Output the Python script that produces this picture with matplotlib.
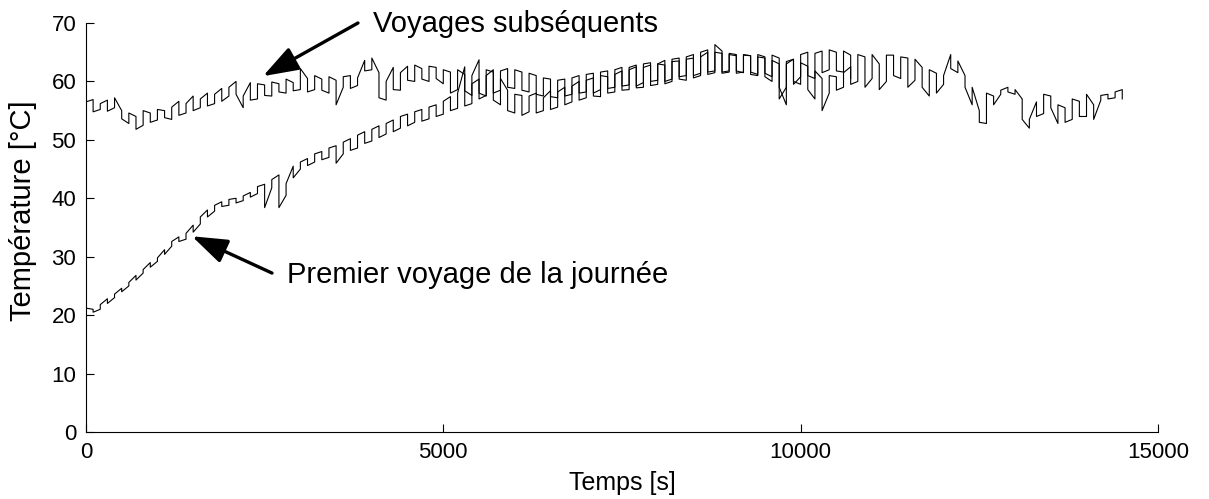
import numpy as np
import matplotlib
matplotlib.use("Agg")
import matplotlib.pyplot as plt

plt.rcParams["font.family"] = ["Liberation Sans", "DejaVu Sans"]

# Sampling grid (s) for both temperature records
t_step = 100

# Later trips: min / max temperature within each 100 s window
later_lo = [55.0, 54.8, 55.2, 54.9, 55.5, 53.6, 52.8, 51.8, 52.5, 53.0,
            53.4, 53.8, 53.5, 54.2, 54.6, 55.0, 55.5, 55.8, 56.2, 56.6,
            57.5, 57.8, 55.5, 56.8, 57.0, 57.6, 57.5, 58.2, 58.0, 58.4,
            58.6, 58.2, 58.6, 58.5, 58.0, 56.0, 59.0, 58.8, 59.3, 61.8,
            62.0, 57.2, 56.8, 58.6, 58.5, 60.2, 60.0, 60.4, 60.0, 60.5,
            59.6, 58.0, 58.6, 58.4, 57.6, 58.0, 57.5, 56.8, 56.0, 55.0,
            54.6, 54.2, 54.8, 54.6, 55.0, 55.2, 55.6, 56.0, 56.5, 56.8,
            57.2, 57.5, 57.4, 58.0, 58.2, 58.5, 58.6, 58.9, 59.0, 59.3,
            59.5, 59.6, 60.0, 60.4, 60.2, 60.6, 61.0, 61.2, 61.5, 61.4,
            61.6, 61.8, 61.5, 61.6, 61.2, 61.4, 60.8, 59.0, 56.0, 59.5,
            60.8, 61.0, 60.5, 61.5, 62.0, 61.8, 61.6, 59.5, 60.0, 59.0,
            60.5, 58.6, 60.0, 61.0, 60.5, 59.0, 60.2, 59.0, 57.5, 58.0,
            59.5, 62.2, 61.5, 59.0, 56.0, 53.0, 52.8, 56.0, 57.8, 58.2,
            57.8, 53.5, 52.0, 54.0, 54.5, 55.5, 52.8, 53.0, 53.5, 54.0,
            54.0, 53.5, 56.8, 57.0, 57.2, 57.0]
later_hi = [56.5, 56.9, 56.2, 56.8, 57.2, 55.0, 54.6, 54.0, 55.0, 54.6,
            55.2, 55.0, 55.6, 56.6, 56.2, 57.5, 57.0, 58.0, 57.8, 58.8,
            59.0, 60.0, 57.5, 59.8, 59.6, 59.4, 59.9, 59.6, 60.4, 59.8,
            62.2, 60.5, 61.0, 60.4, 60.8, 60.2, 60.8, 61.0, 60.6, 63.6,
            64.0, 61.5, 60.0, 62.4, 61.5, 62.6, 62.8, 62.2, 62.6, 62.4,
            62.0, 61.6, 62.0, 61.2, 61.0, 63.7, 62.0, 61.6, 60.5, 58.5,
            57.8, 57.6, 57.5, 58.0, 57.2, 58.4, 58.2, 59.0, 59.2, 60.0,
            60.2, 60.6, 61.0, 60.8, 61.2, 61.8, 62.0, 62.5, 62.4, 62.8,
            63.0, 62.8, 63.4, 63.5, 63.8, 64.0, 64.2, 65.0, 66.3, 65.2,
            64.8, 64.6, 64.5, 64.4, 64.6, 64.2, 64.5, 64.0, 63.0, 63.8,
            64.6, 65.0, 64.8, 65.2, 65.4, 65.0, 65.2, 64.5, 64.6, 64.2,
            64.6, 63.0, 64.5, 64.5, 64.2, 64.0, 63.8, 62.4, 62.0, 61.4,
            61.0, 64.6, 63.5, 61.0, 59.0, 55.0, 58.0, 57.5, 58.5, 59.0,
            58.6, 57.0, 53.5, 56.5, 57.8, 57.5, 56.0, 55.5, 57.0, 56.6,
            57.8, 56.0, 57.6, 57.8, 58.2, 58.6]

# First trip of the day
first_lo = [20.6, 20.5, 21.0, 22.0, 23.0, 24.0, 25.0, 26.0, 27.2, 28.2,
            29.2, 30.4, 31.8, 32.6, 33.0, 34.2, 35.6, 36.8, 37.8, 38.6,
            38.8, 39.2, 39.6, 40.2, 40.8, 38.4, 41.8, 38.4, 40.5, 43.5,
            45.0, 45.6, 46.2, 46.6, 47.0, 46.0, 47.6, 48.2, 48.6, 49.4,
            49.8, 50.4, 51.0, 51.4, 52.0, 52.4, 53.0, 53.2, 53.6, 54.0,
            54.4, 55.0, 55.4, 55.8, 56.2, 57.0, 57.6, 58.0, 58.5, 59.0,
            58.8, 58.5, 58.2, 57.8, 57.5, 57.4, 57.2, 57.5, 57.8, 58.0,
            58.2, 58.0, 58.6, 58.8, 59.0, 59.2, 59.4, 59.2, 59.8, 60.0,
            60.2, 60.0, 60.4, 60.8, 61.0, 61.0, 61.4, 61.6, 61.8, 61.6,
            61.8, 61.4, 61.6, 61.2, 61.0, 60.8, 60.0, 57.0, 59.0, 60.0,
            59.5, 58.6, 57.0, 55.0, 58.0, 58.5, 59.0, 60.5]
first_hi = [21.2, 21.0, 21.8, 22.8, 23.6, 24.6, 25.6, 26.8, 27.8, 29.0,
            29.8, 31.2, 32.6, 33.4, 34.0, 35.4, 36.8, 38.0, 38.8, 39.4,
            39.8, 40.0, 40.4, 41.0, 42.0, 42.4, 43.2, 44.0, 42.5, 45.5,
            46.2, 46.8, 47.6, 48.0, 48.6, 49.0, 49.6, 50.2, 50.8, 51.4,
            51.8, 52.4, 52.8, 53.4, 54.0, 54.4, 54.8, 55.2, 55.6, 56.0,
            56.6, 57.4, 58.0, 62.5, 59.6, 60.4, 61.0, 62.0, 61.8, 62.2,
            62.0, 61.6, 61.4, 61.0, 60.6, 60.4, 60.2, 60.4, 60.6, 61.0,
            61.2, 61.4, 61.6, 61.8, 62.0, 62.4, 62.4, 62.8, 63.0, 63.2,
            63.0, 63.6, 63.8, 64.0, 64.2, 64.6, 65.0, 65.4, 65.0, 64.8,
            64.6, 64.4, 64.6, 64.4, 64.2, 64.0, 63.6, 63.0, 63.4, 63.8,
            63.2, 62.6, 61.8, 60.5, 61.0, 60.8, 61.5, 62.5]


def zigzag(lo, hi):
    # each window becomes a vertical stroke from its min to its max,
    # alternating direction so consecutive strokes join end to end
    t = np.arange(len(lo)) * t_step
    xs, ys = [], []
    for i, (a, b) in enumerate(zip(lo, hi)):
        pair = (a, b) if i % 2 == 0 else (b, a)
        xs += [t[i], t[i]]
        ys += list(pair)
    return np.array(xs), np.array(ys)


fig = plt.figure(figsize=(12.09, 4.99), dpi=100)
ax = fig.add_axes([0.0711, 0.1343, 0.8867, 0.8196])

for lo, hi in [(later_lo, later_hi), (first_lo, first_hi)]:
    x, y = zigzag(lo, hi)
    ax.plot(x, y, color="black", lw=0.8)

ax.set_xlim(0, 15000)
ax.set_ylim(0, 70)
ax.set_xticks([0, 5000, 10000, 15000])
ax.set_yticks(range(0, 71, 10))
ax.spines["top"].set_visible(False)
ax.spines["right"].set_visible(False)
ax.tick_params(direction="in", length=6, width=0.8, labelsize=16, pad=7)
ax.set_xlabel("Temps [s]", fontsize=18, labelpad=6)
ax.set_ylabel("Température [°C]", fontsize=21)
ax.yaxis.set_label_coords(-0.046, 0.54)

arrow = dict(arrowstyle="-|>,head_length=1.2,head_width=0.42",
             mutation_scale=18, lw=2.4, color="black",
             shrinkA=0, shrinkB=0)
ax.annotate("", xy=(2477, 60.9), xytext=(3806, 70.0), arrowprops=arrow,
            annotation_clip=False)
ax.annotate("", xy=(1483, 33.5), xytext=(2603, 27.2), arrowprops=arrow)
ax.text(4016, 68.5, "Voyages subséquents", fontsize=21, va="baseline",
        ha="left")
ax.text(2812, 25.5, "Premier voyage de la journée", fontsize=21,
        va="baseline", ha="left")

fig.savefig("out.png", dpi=100)
